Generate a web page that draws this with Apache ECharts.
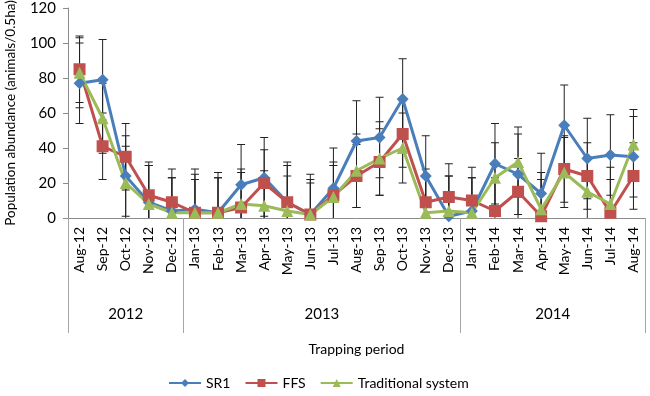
<!DOCTYPE html>
<html>
<head>
<meta charset="utf-8">
<script src="https://cdn.jsdelivr.net/npm/echarts@6/dist/echarts.min.js"></script>
<style>
  html, body { margin: 0; padding: 0; background: #fff; }
  #chart { width: 650px; height: 396px; }
</style>
</head>
<body>
<div id="chart"></div>
<script>
// months sampled
var months = ["Aug-12", "Sep-12", "Oct-12", "Nov-12", "Dec-12",
  "Jan-13", "Feb-13", "Mar-13", "Apr-13", "May-13", "Jun-13", "Jul-13",
  "Aug-13", "Sep-13", "Oct-13", "Nov-13", "Dec-13",
  "Jan-14", "Feb-14", "Mar-14", "Apr-14", "May-14", "Jun-14", "Jul-14", "Aug-14"];
var years = ["2012", "2013", "2014"];
var yearBreaks = [0, 5, 17, 25];
var yearMids = [2.5, 11, 21];

var sr1 = [77, 79, 24, 9, 4, 5, 3, 19, 23, 9, 2, 17, 44, 46, 68, 24, 1, 4, 31, 25, 14, 53, 34, 36, 35];
var ffs = [85, 41, 35, 13, 9, 3, 3, 6, 20, 9, 2, 13, 24, 32, 48, 9, 12, 10, 4, 15, 1, 28, 24, 3, 24];
var trad = [83, 57, 20, 8, 3, 3, 3, 8, 7, 4, 2, 12, 27, 34, 40, 3, 4, 3, 23, 32, 5, 26, 15, 8, 42];

// standard error (+/-)
var sr1Err = [23, 23, 23, 21, 19, 20, 20, 23, 23, 21, 20, 23, 23, 23, 23, 23, 23, 25, 23, 23, 23, 23, 23, 23, 23];
var ffsErr = [19, 19, 19, 19, 19, 19, 23, 20, 19, 23, 18, 19, 18, 19, 19, 19, 19, 13, 19, 19, 21, 19, 19, 19, 19];
var tradErr = [20, 20, 21, 22, 20, 25, 20, 20, 20, 20, 23, 18, 21, 21, 20, 20, 20, 20, 20, 20, 21, 20, 20, 21, 20];

var font = "Lato";
var colors = ["#4A7EBB", "#C0504D", "#9BBB59"];

function errData(vals, errs) {
  return vals.map(function (v, i) {
    return [i, Math.max(0, v - errs[i]), v + errs[i]];
  });
}

function errRender(params, api) {
  var x = api.value(0);
  var lo = api.coord([x, api.value(1)]);
  var hi = api.coord([x, api.value(2)]);
  var w = 4;
  var st = { stroke: "#222", lineWidth: 1 };
  var kids = [
    { type: "line", shape: { x1: hi[0], y1: hi[1], x2: lo[0], y2: lo[1] }, style: st },
    { type: "line", shape: { x1: hi[0] - w, y1: hi[1], x2: hi[0] + w, y2: hi[1] }, style: st }
  ];
  if (api.value(1) > 0) {
    kids.push({ type: "line", shape: { x1: lo[0] - w, y1: lo[1], x2: lo[0] + w, y2: lo[1] }, style: st });
  }
  return { type: "group", children: kids };
}

function lineSeries(name, data, symbol, size, color) {
  return {
    name: name,
    type: "line",
    data: data,
    symbol: symbol,
    symbolSize: size,
    z: 3,
    lineStyle: { width: 3, color: color },
    itemStyle: { color: color }
  };
}

function errSeries(vals, errs) {
  return {
    type: "custom",
    renderItem: errRender,
    data: errData(vals, errs),
    encode: { x: 0, y: [1, 2] },
    z: 2,
    silent: true
  };
}

var chart = echarts.init(document.getElementById("chart"));

chart.setOption({
  animation: false,
  textStyle: { fontFamily: font },
  color: colors,
  grid: { left: 68, right: 5, top: 8, bottom: 178, outerBoundsMode: "none", containLabel: false },
  legend: {
    bottom: 1,
    left: 163,
    itemWidth: 32,
    itemHeight: 10,
    itemGap: 14,
    textStyle: { fontFamily: font, fontSize: 14, color: "#000" },
    data: ["SR1", "FFS", "Traditional system"]
  },
  xAxis: [
    {
      type: "category",
      data: months,
      boundaryGap: true,
      axisLine: { lineStyle: { color: "#8c8c8c" } },
      axisTick: { interval: 0, length: 72, lineStyle: { color: "#a6a6a6" } },
      axisLabel: { interval: 0, rotate: 90, margin: 9, fontSize: 14, color: "#000", fontFamily: font }
    },
    {
      type: "value",
      min: 0,
      max: 25,
      position: "bottom",
      name: "Trapping period",
      nameLocation: "middle",
      nameGap: 124,
      nameTextStyle: { fontSize: 14, color: "#000", fontFamily: font },
      axisLine: { show: false },
      splitLine: { show: false },
      axisTick: { show: true, length: 115, customValues: yearBreaks, lineStyle: { color: "#a6a6a6" } },
      axisLabel: {
        margin: 89,
        fontSize: 15,
        color: "#000",
        fontFamily: font,
        customValues: yearMids,
        formatter: function (v) { return years[yearMids.indexOf(v)]; }
      }
    }
  ],
  yAxis: {
    type: "value",
    min: 0,
    max: 120,
    interval: 20,
    name: "Population abundance (animals/0.5ha)",
    nameLocation: "middle",
    nameGap: 50,
    nameTextStyle: { fontSize: 13.5, color: "#000", fontFamily: font },
    axisLine: { show: true, lineStyle: { color: "#8c8c8c" } },
    axisTick: { show: true, length: 5, lineStyle: { color: "#8c8c8c" } },
    splitLine: { show: false },
    axisLabel: { fontSize: 15, color: "#000", margin: 12, fontFamily: font }
  },
  series: [
    errSeries(sr1, sr1Err),
    errSeries(ffs, ffsErr),
    errSeries(trad, tradErr),
    lineSeries("SR1", sr1, "diamond", 12, colors[0]),
    lineSeries("FFS", ffs, "rect", 12, colors[1]),
    lineSeries("Traditional system", trad, "triangle", 12, colors[2])
  ]
});
</script>
</body>
</html>
